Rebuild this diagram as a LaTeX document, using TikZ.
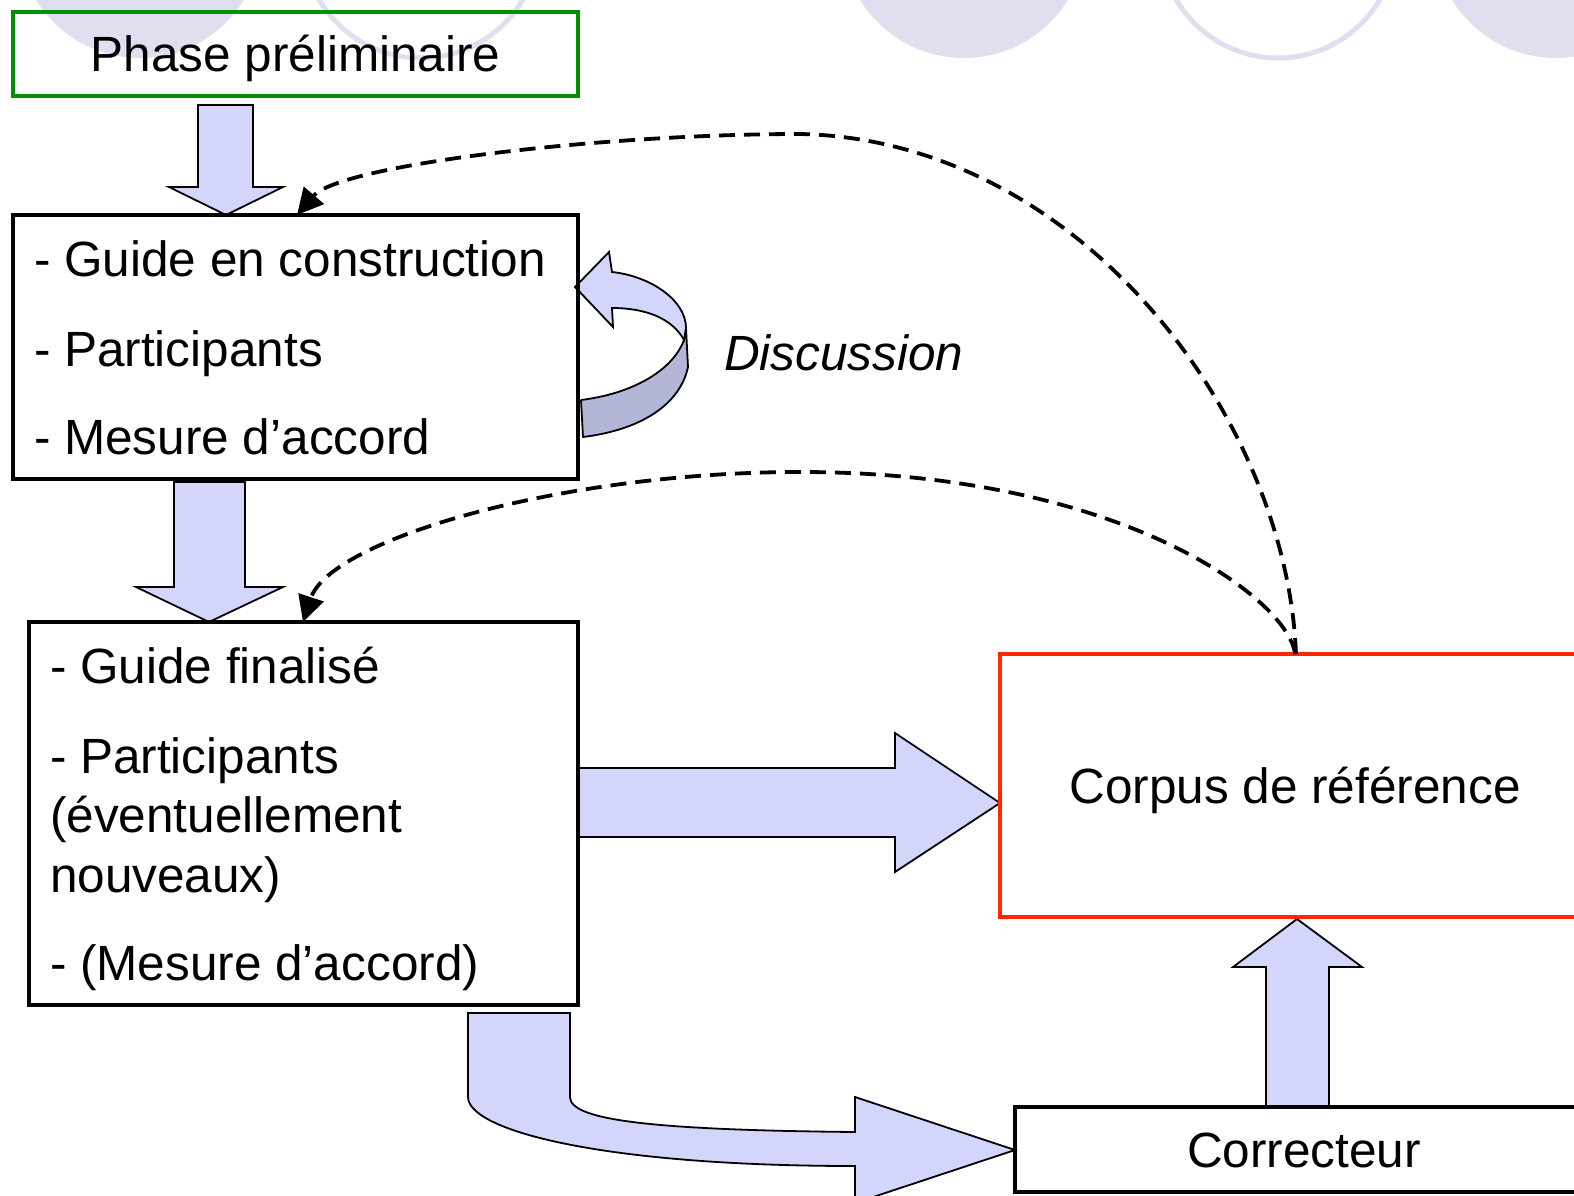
\documentclass[tikz,border=0pt]{standalone}
\usepackage{fontspec}
\setmainfont{Liberation Sans}
\usetikzlibrary{arrows.meta,calc}

\definecolor{blockfill}{RGB}{212,213,251}
\definecolor{blockshade}{RGB}{180,182,216}
\definecolor{deco}{RGB}{223,223,240}
\definecolor{boxgreen}{RGB}{0,145,0}
\definecolor{boxred}{RGB}{255,40,0}

\begin{document}
\begin{tikzpicture}[x=1pt,y=-1pt,
  box/.style={draw, line width=3.5pt, inner sep=0pt, outer sep=0pt, anchor=north west},
  txt/.style={inner sep=0pt, outer sep=0pt, anchor=base west, font=\fontsize{49.5pt}{58pt}\selectfont},
  block/.style={fill=blockfill, draw=black, line width=1.8pt, line join=miter},
  shade/.style={fill=blockshade, draw=black, line width=1.8pt, line join=round},
  feedback/.style={draw, line width=3.8pt, dash pattern=on 16pt off 9pt,
    -{Triangle[length=26pt,width=26pt]}},
  decofill/.style={fill=deco},
  decoring/.style={draw=deco, line width=5pt, fill=white}]

\useasboundingbox (0,0) rectangle (1574,1196);
\clip (0,0) rectangle (1574,1196);
\fill[white] (0,0) rectangle (1574,1196);

% decorative discs along the top edge
\fill[decofill] (140,-64) circle[radius=122];
\draw[decoring] (421,-60) circle[radius=118];
\fill[decofill] (964,-64) circle[radius=122];
\draw[decoring] (1278,-60) circle[radius=118];
\fill[decofill] (1556,-64) circle[radius=122];

% boxes
\node[box, draw=boxgreen, minimum width=565pt, minimum height=84pt] (prelim) at (13,12) {};
\node[box, minimum width=565pt, minimum height=264pt] (guideA) at (13,215) {};
\node[box, minimum width=549pt, minimum height=383pt] (guideB) at (29,622) {};
\node[box, draw=boxred, minimum width=594pt, minimum height=263pt] (corpus) at (1000,654) {};
\node[box, minimum width=582pt, minimum height=85pt] (correcteur) at (1015,1107) {};

% block arrows
\draw[block] (198,105) -- (253,105) -- (253,187) -- (283,187) -- (226,215)
  -- (169,187) -- (198,187) -- cycle;
\draw[block] (174,482) -- (245,482) -- (245,587) -- (283,587) -- (209,622)
  -- (136,587) -- (174,587) -- cycle;
\draw[block] (578,768) -- (895,768) -- (895,733) -- (1000,803) -- (895,872)
  -- (895,837) -- (578,837);
\draw[block] (1266,1107) -- (1266,967) -- (1233,967) -- (1297,919) -- (1362,967)
  -- (1329,967) -- (1329,1107);
\draw[block] (468,1013) -- (570,1013) -- (570,1097)
  .. controls (570,1120) and (650,1130) .. (855,1132)
  -- (855,1097) -- (1015,1150) -- (855,1203) -- (855,1166)
  .. controls (600,1166) and (468,1130) .. (468,1097) -- cycle;

% looping arrow beside the first box
\draw[shade] (686,328) -- (688,367) .. controls (680,405) and (640,430) .. (583,437)
  -- (581,400) .. controls (630,394) and (672,372) .. (684,340) -- cycle;
\draw[block] (575,287) -- (609,252) -- (612,272)
  .. controls (650,276) and (686,300) .. (686,328) -- (684,340)
  .. controls (672,318) and (645,308) .. (612,308) -- (613,327) -- cycle;

% redraw box outlines over the arrow ends
\draw[line width=3.5pt, boxgreen] (prelim.north west) rectangle (prelim.south east);
\draw[line width=3.5pt] (guideA.north west) rectangle (guideA.south east);
\draw[line width=3.5pt] (guideB.north west) rectangle (guideB.south east);
\draw[line width=3.5pt, boxred] (corpus.north west) rectangle (corpus.south east);
\draw[line width=3.5pt] (correcteur.north west) rectangle (correcteur.south east);

% feedback loops from the reference corpus
\draw[feedback] ([xshift=-1pt]corpus.north)
  .. controls (1287,420) and (1082,140) .. (800,134)
  .. controls (600,134) and (340,165) .. ([xshift=284pt]guideA.north west);
\draw[feedback] ([xshift=-2pt]corpus.north)
  .. controls (1289,600) and (1122,472) .. (800,472)
  .. controls (560,472) and (330,540) .. ([xshift=274pt]guideB.north west);

% labels
\node[txt, anchor=base] (tPrelim) at (295.5,72) {Phase préliminaire};
\node[txt] (tA1) at (34,276) {- Guide en construction};
\node[txt] (tA2) at (34,366) {- Participants};
\node[txt] (tA3) at (34,454) {- Mesure d’accord};
\node[txt] (tB1) at (50,683) {- Guide finalisé};
\node[txt] (tB2) at (50,773) {- Participants};
\node[txt] (tB3) at (50,832) {(éventuellement};
\node[txt] (tB4) at (50,892) {nouveaux)};
\node[txt] (tB5) at (50,980) {- (Mesure d’accord)};
\node[txt, anchor=base] (tCorpus) at (1295,803) {Corpus de référence};
\node[txt, anchor=base] (tCorr) at (1304,1167) {Correcteur};
\node[txt, font=\fontsize{49.5pt}{58pt}\selectfont\itshape] (tDisc) at (724,370) {Discussion};

\end{tikzpicture}
\end{document}
